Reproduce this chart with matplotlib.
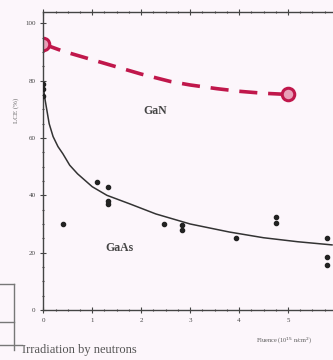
import matplotlib
matplotlib.use("Agg")
import matplotlib.pyplot as plt
from matplotlib.lines import Line2D
from matplotlib.ticker import MultipleLocator

# GaN (red dashed curve with open circle markers)
gan_curve_x = [0.0, 0.4, 1.0, 1.4, 2.0, 2.6, 3.0, 3.55, 4.0, 4.5, 5.0]
gan_curve_y = [92.8, 90.3, 87.3, 85.3, 82.3, 79.7, 78.5, 77.2, 76.3, 75.6, 75.2]
gan_marker_x = [0.0, 5.0]
gan_marker_y = [92.8, 75.2]

# GaAs measured points
gaas_x = [0.0, 0.0, 0.0, 0.4, 1.1, 1.32, 1.32, 1.32, 2.46, 2.83, 2.83,
          3.93, 4.76, 4.76, 5.8, 5.8, 5.8]
gaas_y = [79.0, 77.0, 74.7, 30.0, 44.5, 43.0, 38.0, 36.8, 30.0, 29.8, 28.0,
          25.0, 32.6, 30.5, 25.0, 18.6, 15.8]

# GaAs fitted curve
fit_x = [0.0, 0.03, 0.07, 0.12, 0.2, 0.3, 0.4, 0.54, 0.7, 1.0, 1.3, 1.77,
         2.3, 3.0, 3.8, 4.5, 5.2, 5.9]
fit_y = [78.0, 74.0, 70.0, 65.0, 60.5, 57.0, 54.5, 50.5, 47.5, 43.0, 40.0,
         37.0, 33.5, 30.0, 27.2, 25.2, 23.8, 22.7]

bg = "#fcf6fb"
red = "#c0174b"

plt.rcParams["font.family"] = ["Liberation Serif", "DejaVu Serif"]

fig = plt.figure(figsize=(3.33, 3.6), dpi=100, facecolor=bg)
ax = fig.add_axes([0.130, 0.139, 0.87, 0.828], facecolor=bg)

ax.plot(fit_x, fit_y, color="#333333", lw=1.1)
ax.scatter(gaas_x, gaas_y, s=9, color="#222222", zorder=3)

ax.plot(gan_curve_x, gan_curve_y, color=red, lw=2.6, dashes=(5, 3))
ax.plot(gan_marker_x, gan_marker_y, ls="none", marker="o", ms=9,
        mfc="#e8a0b8", mec=red, mew=2.2)

ax.text(2.28, 69.5, "GaN", fontsize=8.5, color="#444444",
        ha="center", va="center", fontweight="bold")
ax.text(1.56, 21.5, "GaAs", fontsize=8.5, color="#444444",
        ha="center", va="center", fontweight="bold")

ax.set_xlim(0, 5.92)
ax.set_ylim(0, 104)
ax.xaxis.set_major_locator(MultipleLocator(1))
ax.xaxis.set_minor_locator(MultipleLocator(0.25))
ax.yaxis.set_major_locator(MultipleLocator(20))
ax.yaxis.set_minor_locator(MultipleLocator(5))
ax.tick_params(which="both", direction="inout", top=True, right=False,
               labelsize=5, colors="#444444", width=0.8)
ax.tick_params(which="major", length=4)
ax.tick_params(which="minor", length=2)
for side in ["left", "bottom", "top"]:
    ax.spines[side].set_color("#444444")
    ax.spines[side].set_linewidth(1.0)
ax.spines["right"].set_visible(False)

ax.set_xlabel("Fluence (10$^{15}$ n/cm$^2$)", fontsize=4.5, color="#555555")
ax.xaxis.set_label_coords(0.83, -0.085)
ax.set_ylabel("LCE (%)", fontsize=5, color="#666666")
ax.yaxis.set_label_coords(-0.085, 0.67)

# fragment of neighbouring figure at bottom left
gray = "#777777"
fig.add_artist(Line2D([0, 0.043], [1 - 284 / 360, 1 - 284 / 360], color=gray, lw=1))
fig.add_artist(Line2D([0.043, 0.043], [1 - 284 / 360, 1 - 350 / 360], color=gray, lw=1))
fig.add_artist(Line2D([0, 0.043], [1 - 322 / 360, 1 - 322 / 360], color=gray, lw=1))
fig.add_artist(Line2D([0, 0.066], [1 - 345 / 360, 1 - 345 / 360], color=gray, lw=1))
fig.text(0.066, 1 - 350 / 360, "Irradiation by neutrons", fontsize=9,
         color="#555555", va="center", ha="left")

fig.savefig("out.png", dpi=100, facecolor=bg)
